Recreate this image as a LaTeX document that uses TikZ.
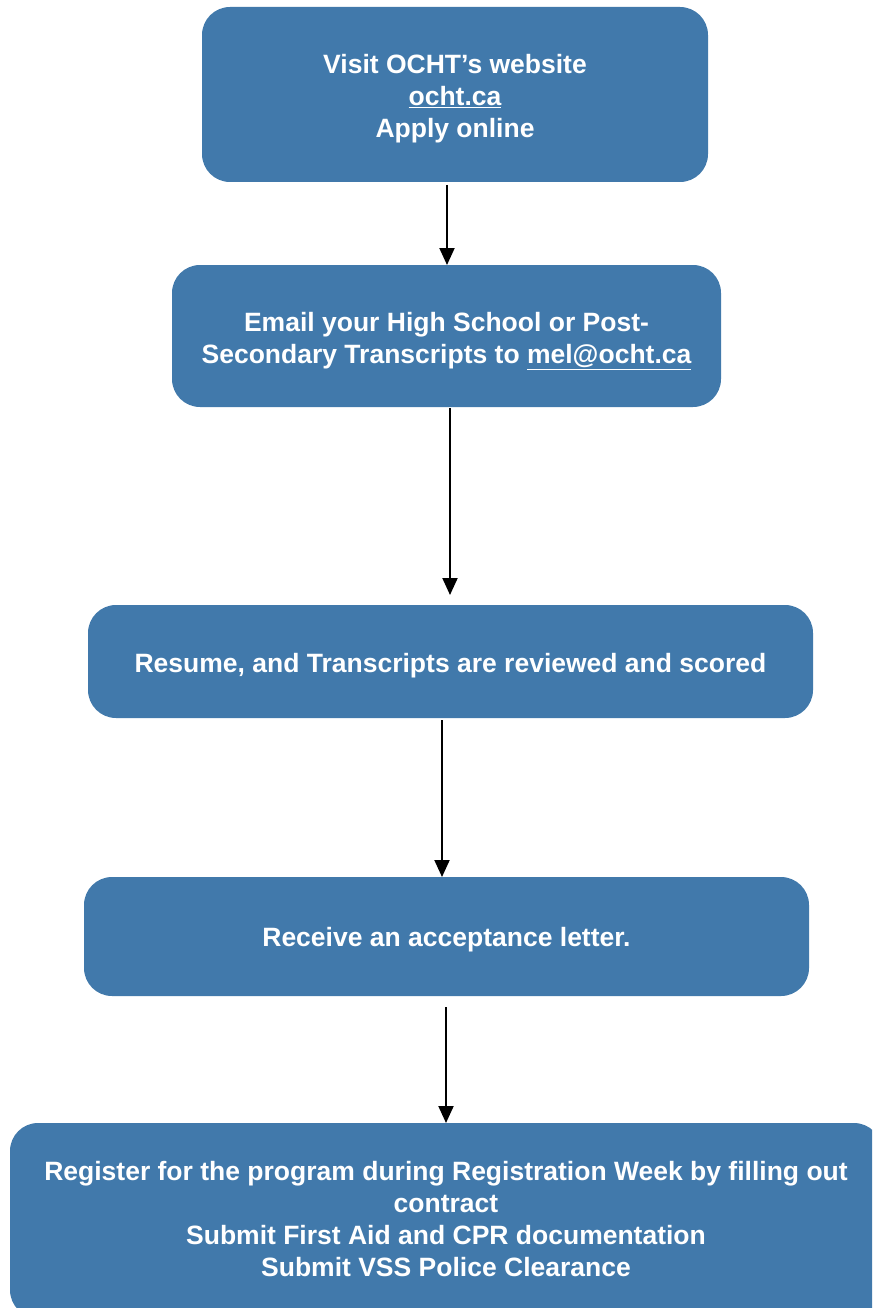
\documentclass[tikz,border=0pt]{standalone}
\usepackage{fontspec}
\setmainfont{Liberation Sans}
\usetikzlibrary{arrows.meta}
\definecolor{boxblue}{RGB}{65,121,171}
\begin{document}
\begin{tikzpicture}[x=1pt,y=-1pt,
  stepbox/.style={fill=boxblue, draw=none, rounded corners=28pt, inner sep=0pt},
  steptext/.style={inner sep=0pt, text=white, align=center,
    font=\fontsize{26.5}{32}\selectfont\bfseries},
  flow/.style={line width=2pt, -{Triangle[width=15pt,length=17pt]}}]
\clip (0,0) rectangle (872,1308);
\node[stepbox, minimum width=506pt, minimum height=175pt] (b1) at (455,94.5) {};
\node[steptext] (t1) at ([yshift=-4pt]b1.center)
  {Visit OCHT’s website\\\underline{ocht.ca}\\Apply online};
\node[stepbox, minimum width=549pt, minimum height=142pt] (b2) at (446.5,336) {};
\node[steptext] (t2) at ([yshift=-5pt]b2.center)
  {Email your High School or Post-\\Secondary Transcripts to \underline{mel@ocht.ca}};
\node[stepbox, minimum width=725pt, minimum height=113pt] (b3) at (450.5,661.5) {};
\node[steptext] (t3) at ([yshift=-4pt]b3.center)
  {Resume, and Transcripts are reviewed and scored};
\node[stepbox, minimum width=725pt, minimum height=119pt] (b4) at (446.5,936.5) {};
\node[steptext] (t4) at ([yshift=-3pt]b4.center)
  {Receive an acceptance letter.};
\node[stepbox, minimum width=872pt, minimum height=195pt] (b5) at (446,1220.5) {};
\node[steptext] (t5) at ([yshift=1pt]b5.center)
  {Register for the program during Registration Week by filling out\\contract\\Submit First Aid and CPR documentation\\Submit VSS Police Clearance};
\coordinate (a1s) at (447,185);
\coordinate (a1e) at (447,265);
\coordinate (a2s) at (450,408);
\coordinate (a2e) at (450,595);
\coordinate (a3s) at (442,720);
\coordinate (a3e) at (442,877);
\coordinate (a4s) at (446,1007);
\coordinate (a4e) at (446,1123);
\draw[flow] (a1s) -- (a1e);
\draw[flow] (a2s) -- (a2e);
\draw[flow] (a3s) -- (a3e);
\draw[flow] (a4s) -- (a4e);
\end{tikzpicture}
\end{document}
